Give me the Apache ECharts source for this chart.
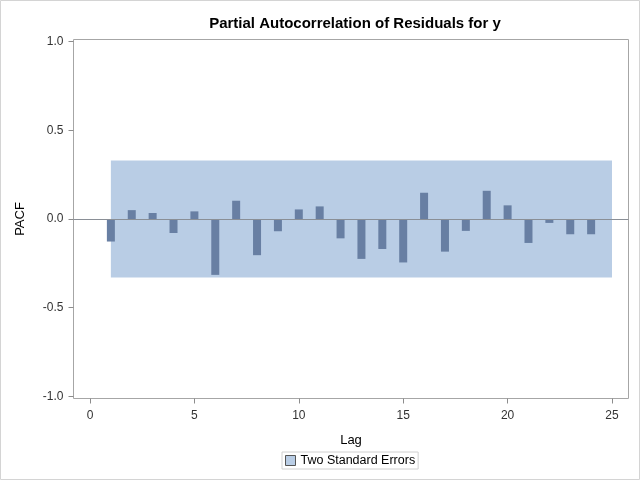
<!DOCTYPE html>
<html>
<head>
<meta charset="utf-8">
<script src="https://cdn.jsdelivr.net/npm/echarts@6/dist/echarts.min.js"></script>
<style>html,body{margin:0;padding:0;background:#fff}#c{width:640px;height:480px}</style>
</head>
<body>
<div id="c"></div>
<script>
const lags = [1,2,3,4,5,6,7,8,9,10,11,12,13,14,15,16,17,18,19,20,21,22,23,24];
const pacf = [-0.127,0.050,0.034,-0.079,0.043,-0.315,0.103,-0.204,-0.069,0.054,0.071,-0.109,-0.225,-0.169,-0.245,0.148,-0.184,-0.067,0.159,0.077,-0.135,-0.022,-0.086,-0.086];
const twoStdErr = 0.33;
const bandLags = [1, 25];
const xTicks = [0,5,10,15,20,25];
const yTicks = [-1,-0.5,0,0.5,1];

const chart = echarts.init(document.getElementById('c'), null, {renderer:'canvas'});
const font = 'Liberation Sans, Arial, sans-serif';
chart.setOption({
  animation:false,
  backgroundColor:'#fff',
  graphic:[{type:'rect',shape:{x:0.5,y:0.5,width:639,height:479},style:{fill:'none',stroke:'#d4d4d4',lineWidth:1},silent:true}],
  title:{text:'Partial Autocorrelation of Residuals for y',left:350,textAlign:'center',top:11,
    textStyle:{fontFamily:font,fontSize:15,fontWeight:'bold',color:'#000'}},
  grid:{left:73.5,right:11.5,top:39.5,bottom:81.5,show:true,borderColor:'#a6a6a6',borderWidth:1,backgroundColor:'transparent'},
  legend:{bottom:11,left:282,data:['Two Standard Errors'],icon:'rect',itemWidth:10,itemHeight:10,itemGap:6,
    borderColor:'#d0d0d0',borderWidth:1,padding:[2,3,2,3],
    itemStyle:{borderColor:'#555',borderWidth:1},
    textStyle:{fontFamily:font,fontSize:12.5,color:'#000'}},
  xAxis:{type:'value',min:-0.79,max:25.79,name:'Lag',nameLocation:'middle',nameGap:35,
    nameTextStyle:{fontFamily:font,fontSize:13,color:'#000'},
    axisLine:{show:false,onZero:false},splitLine:{show:false},
    axisTick:{show:true,length:5,lineStyle:{color:'#8c8c8c'},customValues:xTicks},
    axisLabel:{fontFamily:font,fontSize:12,color:'#333',margin:11,customValues:xTicks}},
  yAxis:{type:'value',min:-1.012,max:1.012,name:'PACF',nameLocation:'middle',nameGap:47,
    nameTextStyle:{fontFamily:font,fontSize:13,color:'#000'},
    axisLine:{show:false,onZero:false},splitLine:{show:false},
    axisTick:{show:true,length:5,lineStyle:{color:'#8c8c8c'},customValues:yTicks},
    axisLabel:{fontFamily:font,fontSize:12,color:'#333',margin:10,customValues:yTicks,formatter:v=>v.toFixed(1)}},
  series:[
    {name:'Two Standard Errors',type:'line',data:[],itemStyle:{color:'#b9cde5'},
      markArea:{silent:true,itemStyle:{color:'#b9cde5'},
        data:[[{xAxis:bandLags[0],yAxis:-twoStdErr},{xAxis:bandLags[1],yAxis:twoStdErr}]]},
      markLine:{silent:true,symbol:'none',label:{show:false},lineStyle:{color:'#8a8f96',width:1,type:'solid'},
        data:[{yAxis:0}]}},
    {name:'PACF',type:'bar',barWidth:8,itemStyle:{color:'#687fa3'},
      data:lags.map((l,i)=>[l,pacf[i]]),z:3}
  ]
});
</script>
</body>
</html>
